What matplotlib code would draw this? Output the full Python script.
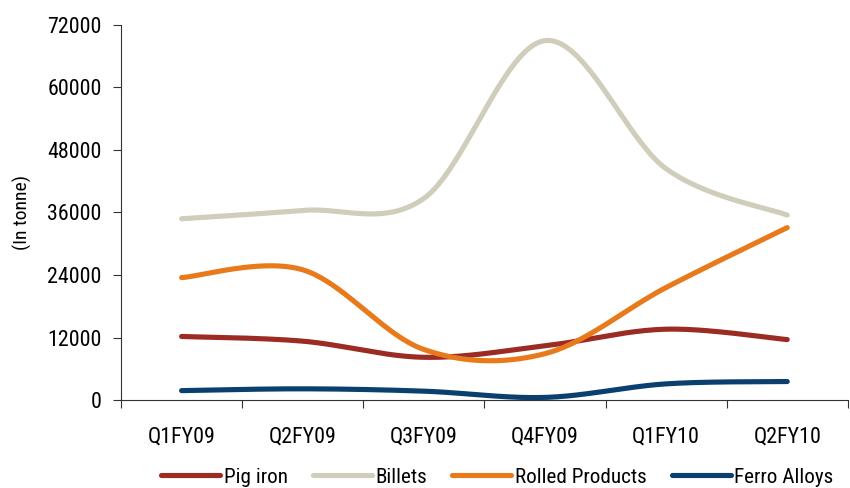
import matplotlib
matplotlib.use("Agg")
import matplotlib.pyplot as plt
import numpy as np

quarters = ["Q1FY09", "Q2FY09", "Q3FY09", "Q4FY09", "Q1FY10", "Q2FY10"]
pig_iron = [12200, 11300, 8200, 10400, 13600, 11600]
billets = [34800, 36400, 38700, 69000, 44400, 35500]
rolled_products = [23500, 25000, 9700, 8900, 21600, 33100]
ferro_alloys = [1800, 2150, 1700, 500, 3100, 3550]

series = [
    ("Pig iron", pig_iron, "#9B2B23"),
    ("Billets", billets, "#D0CDBB"),
    ("Rolled Products", rolled_products, "#E87A1C"),
    ("Ferro Alloys", ferro_alloys, "#0B3F70"),
]

plt.rcParams['font.family'] = ['Roboto Condensed', 'Archivo Narrow', 'PT Sans Narrow',
                               'Liberation Sans Narrow', 'DejaVu Sans']


def smooth(xs, ys, n=40):
    """Excel-like smoothed line (cubic bezier, catmull-rom control points)."""
    xs = np.asarray(xs, float)
    ys = np.asarray(ys, float)
    px = np.concatenate([[xs[0]], xs, [xs[-1]]])
    py = np.concatenate([[ys[0]], ys, [ys[-1]]])
    out_x, out_y = [], []
    t = np.linspace(0, 1, n)
    for i in range(1, len(px) - 2):
        p0 = np.array([px[i], py[i]])
        p3 = np.array([px[i + 1], py[i + 1]])
        c1 = p0 + (p3 - np.array([px[i - 1], py[i - 1]])) / 6
        c2 = p3 - (np.array([px[i + 2], py[i + 2]]) - p0) / 6
        b = ((1 - t) ** 3)[:, None] * p0 + (3 * (1 - t) ** 2 * t)[:, None] * c1 \
            + (3 * (1 - t) * t ** 2)[:, None] * c2 + (t ** 3)[:, None] * p3
        out_x.extend(b[:, 0])
        out_y.extend(b[:, 1])
    return out_x, out_y


fig = plt.figure(figsize=(8.5, 4.88), dpi=100)
ax = fig.add_axes([0.1424, 0.1803, 0.855, 0.7685])

x = np.arange(len(quarters))
for name, vals, col in series:
    sx, sy = smooth(x, vals)
    ax.plot(sx, sy, color=col, lw=3.7, solid_capstyle='round', label=name)

ax.set_xlim(-0.5, len(quarters) - 0.5)
ax.set_ylim(0, 72000)
ax.set_yticks(np.arange(0, 72001, 12000))
ax.set_xticks(np.arange(-0.5, len(quarters), 1.0))
ax.set_xticklabels([])
ax.set_xticks(x, minor=True)
ax.set_xticklabels(quarters, minor=True)
ax.tick_params(axis='x', which='minor', length=0, pad=19, labelsize=15.8)
ax.tick_params(axis='x', which='major', length=6, width=0.8, color='#333333')
ax.tick_params(axis='y', length=6, width=0.8, pad=8, labelsize=15.8, color='#333333')

for s in ['top', 'right']:
    ax.spines[s].set_visible(False)
for s in ['left', 'bottom']:
    ax.spines[s].set_color('#333333')
    ax.spines[s].set_linewidth(0.8)

ax.set_ylabel("(In tonne)", fontsize=14, labelpad=11)

fig.legend(loc='center', bbox_to_anchor=(0.585, 0.022), ncol=4, frameon=False,
           fontsize=15.2, handlelength=2.8, handletextpad=0.15, columnspacing=1.2,
           borderpad=0.0, borderaxespad=0.0)

fig.savefig("out.png", dpi=100)
